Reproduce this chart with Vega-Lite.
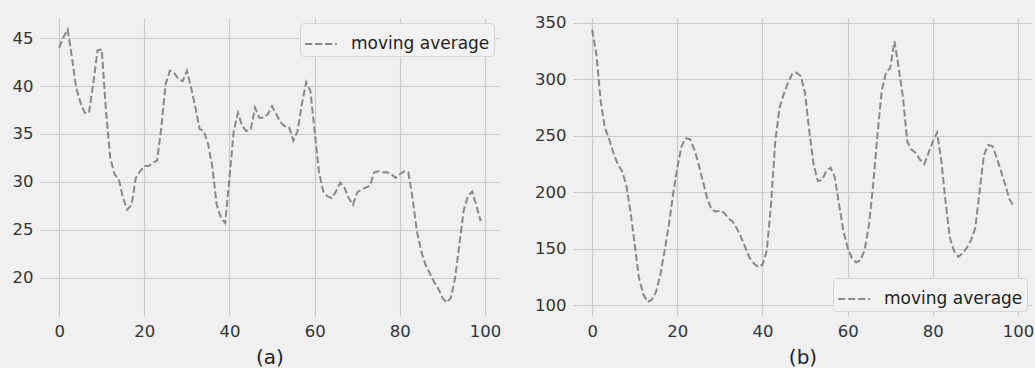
{
  "$schema": "https://vega.github.io/schema/vega-lite/v6.json",
  "background": "#f0f0f0",
  "padding": {"left": 12, "top": 14, "right": 2, "bottom": 4},
  "spacing": 33,
  "config": {
    "view": {"stroke": null, "fill": "#f0f0f0"},
    "axis": {
      "grid": true, "gridColor": "#cbcbcb", "gridWidth": 1.2,
      "domain": false, "ticks": false,
      "labelFont": "DejaVu Sans", "labelFontSize": 16.5, "labelColor": "#333333", "labelPadding": 7,
      "titleFont": "DejaVu Sans", "titleFontSize": 20, "titleFontWeight": "normal", "titleColor": "#222222", "titlePadding": 8
    },
    "legend": {
      "labelFont": "DejaVu Sans", "labelFontSize": 17, "labelColor": "#222222",
      "fillColor": "#f2f2f2", "strokeColor": "#d6d6d6", "cornerRadius": 4,
      "padding": 4, "offset": 5, "symbolType": "stroke", "symbolSize": 1000,
      "symbolStrokeWidth": 2, "symbolDash": [7, 3], "labelOffset": 13
    }
  },
  "resolve": {"scale": {"color": "independent", "x": "independent", "y": "independent"}, "legend": {"color": "independent"}},
  "hconcat": [
    {
      "width": 459, "height": 298,
      "data": {"values": [
        {"x":0,"y":44.0},{"x":1,"y":45.1},{"x":2,"y":45.9},{"x":3,"y":43.0},{"x":4,"y":39.8},{"x":5,"y":38.3},{"x":6,"y":37.2},{"x":7,"y":37.2},{"x":8,"y":40.2},{"x":9,"y":43.7},
        {"x":10,"y":43.85},{"x":11,"y":37.4},{"x":12,"y":32.5},{"x":13,"y":30.8},{"x":14,"y":30.3},{"x":15,"y":28.3},{"x":16,"y":27.1},{"x":17,"y":27.6},{"x":18,"y":30.4},{"x":19,"y":31.1},
        {"x":20,"y":31.65},{"x":21,"y":31.65},{"x":22,"y":32.0},{"x":23,"y":32.2},{"x":24,"y":35.7},{"x":25,"y":40.2},{"x":26,"y":41.6},{"x":27,"y":41.4},{"x":28,"y":40.7},{"x":29,"y":40.5},
        {"x":30,"y":41.6},{"x":31,"y":39.8},{"x":32,"y":37.75},{"x":33,"y":35.5},{"x":34,"y":35.3},{"x":35,"y":33.9},{"x":36,"y":31.5},{"x":37,"y":27.6},{"x":38,"y":26.25},{"x":39,"y":25.7},
        {"x":40,"y":30.4},{"x":41,"y":35.3},{"x":42,"y":37.2},{"x":43,"y":35.8},{"x":44,"y":35.3},{"x":45,"y":35.5},{"x":46,"y":37.75},{"x":47,"y":36.7},{"x":48,"y":36.7},{"x":49,"y":37.05},
        {"x":50,"y":37.9},{"x":51,"y":37.05},{"x":52,"y":36.2},{"x":53,"y":35.8},{"x":54,"y":35.7},{"x":55,"y":34.3},{"x":56,"y":35.3},{"x":57,"y":38.1},{"x":58,"y":40.4},{"x":59,"y":39.5},
        {"x":60,"y":35.3},{"x":61,"y":31.1},{"x":62,"y":29.0},{"x":63,"y":28.5},{"x":64,"y":28.3},{"x":65,"y":29.0},{"x":66,"y":29.9},{"x":67,"y":29.4},{"x":68,"y":28.3},{"x":69,"y":27.6},
        {"x":70,"y":28.9},{"x":71,"y":29.2},{"x":72,"y":29.4},{"x":73,"y":29.6},{"x":74,"y":31.0},{"x":75,"y":31.1},{"x":76,"y":31.0},{"x":77,"y":31.0},{"x":78,"y":30.8},{"x":79,"y":30.4},
        {"x":80,"y":30.8},{"x":81,"y":31.1},{"x":82,"y":31.0},{"x":83,"y":28.3},{"x":84,"y":24.9},{"x":85,"y":22.8},{"x":86,"y":21.4},{"x":87,"y":20.5},{"x":88,"y":19.6},{"x":89,"y":18.9},
        {"x":90,"y":17.9},{"x":91,"y":17.4},{"x":92,"y":17.9},{"x":93,"y":20.0},{"x":94,"y":23.5},{"x":95,"y":27.0},{"x":96,"y":28.5},{"x":97,"y":29.0},{"x":98,"y":27.5},{"x":99,"y":25.9}
      ]},
      "transform": [{"calculate": "'moving average'", "as": "series"}],
      "mark": {"type": "line", "strokeDash": [7, 3], "strokeWidth": 2},
      "encoding": {
        "x": {"field": "x", "type": "quantitative", "scale": {"domain": [-4.5, 103.3], "nice": false, "zero": false},
              "axis": {"values": [0, 20, 40, 60, 80, 100], "title": "(a)", "labelFlush": false}},
        "y": {"field": "y", "type": "quantitative", "scale": {"domain": [16.0, 47.1], "nice": false, "zero": false},
              "axis": {"values": [20, 25, 30, 35, 40, 45], "title": null}},
        "color": {"field": "series", "type": "nominal", "scale": {"range": ["#888888"]},
                  "legend": {"orient": "top-right", "title": null}}
      }
    },
    {
      "width": 459, "height": 298,
      "data": {"values": [
        {"x":0,"y":344},{"x":1,"y":322},{"x":2,"y":281},{"x":3,"y":257},{"x":4,"y":247},{"x":5,"y":235},{"x":6,"y":225},{"x":7,"y":219},{"x":8,"y":207},{"x":9,"y":183},
        {"x":10,"y":154},{"x":11,"y":124},{"x":12,"y":110},{"x":13,"y":103},{"x":14,"y":105},{"x":15,"y":112},{"x":16,"y":127},{"x":17,"y":148},{"x":18,"y":171},{"x":19,"y":198},
        {"x":20,"y":222},{"x":21,"y":241},{"x":22,"y":248},{"x":23,"y":247},{"x":24,"y":238},{"x":25,"y":225},{"x":26,"y":210},{"x":27,"y":195},{"x":28,"y":185},{"x":29,"y":183},
        {"x":30,"y":184},{"x":31,"y":182},{"x":32,"y":177},{"x":33,"y":174},{"x":34,"y":168},{"x":35,"y":160},{"x":36,"y":151},{"x":37,"y":142},{"x":38,"y":137},{"x":39,"y":134},
        {"x":40,"y":136},{"x":41,"y":148},{"x":42,"y":189},{"x":43,"y":245},{"x":44,"y":275},{"x":45,"y":287},{"x":46,"y":297},{"x":47,"y":305},{"x":48,"y":306},{"x":49,"y":303},
        {"x":50,"y":288},{"x":51,"y":254},{"x":52,"y":225},{"x":53,"y":210},{"x":54,"y":211},{"x":55,"y":219},{"x":56,"y":222},{"x":57,"y":213},{"x":58,"y":189},{"x":59,"y":166},
        {"x":60,"y":151},{"x":61,"y":142},{"x":62,"y":138},{"x":63,"y":140},{"x":64,"y":149},{"x":65,"y":171},{"x":66,"y":207},{"x":67,"y":251},{"x":68,"y":290},{"x":69,"y":306},
        {"x":70,"y":310},{"x":71,"y":334},{"x":72,"y":310},{"x":73,"y":284},{"x":74,"y":245},{"x":75,"y":238},{"x":76,"y":235},{"x":77,"y":229},{"x":78,"y":225},{"x":79,"y":235},
        {"x":80,"y":245},{"x":81,"y":253},{"x":82,"y":228},{"x":83,"y":192},{"x":84,"y":160},{"x":85,"y":148},{"x":86,"y":143},{"x":87,"y":146},{"x":88,"y":151},{"x":89,"y":158},
        {"x":90,"y":169},{"x":91,"y":201},{"x":92,"y":233},{"x":93,"y":242},{"x":94,"y":241},{"x":95,"y":231},{"x":96,"y":219},{"x":97,"y":207},{"x":98,"y":194},{"x":99,"y":188}
      ]},
      "transform": [{"calculate": "'moving average'", "as": "series"}],
      "mark": {"type": "line", "strokeDash": [7, 3], "strokeWidth": 2},
      "encoding": {
        "x": {"field": "x", "type": "quantitative", "scale": {"domain": [-4.5, 103.3], "nice": false, "zero": false},
              "axis": {"values": [0, 20, 40, 60, 80, 100], "title": "(b)", "labelFlush": false}},
        "y": {"field": "y", "type": "quantitative", "scale": {"domain": [90.6, 354.4], "nice": false, "zero": false},
              "axis": {"values": [100, 150, 200, 250, 300, 350], "title": null}},
        "color": {"field": "series", "type": "nominal", "scale": {"range": ["#888888"]},
                  "legend": {"orient": "bottom-right", "title": null}}
      }
    }
  ]
}
